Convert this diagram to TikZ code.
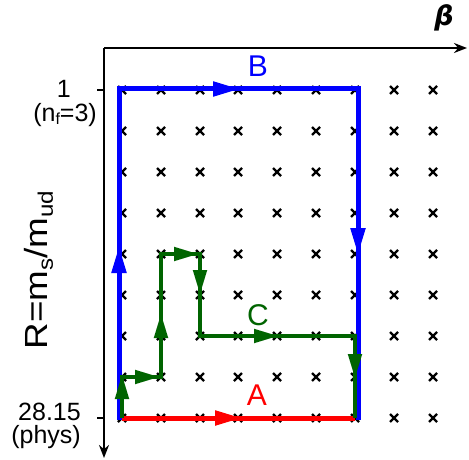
\documentclass[tikz,border=0pt]{standalone}
\usepackage{fontspec}
\setmainfont{Liberation Sans}
\newfontfamily\betafont{DejaVu Sans}
\usetikzlibrary{arrows.meta}
\definecolor{pblue}{RGB}{0,0,255}
\definecolor{pred}{RGB}{255,0,0}
\definecolor{pgreen}{RGB}{0,100,0}
\tikzset{
  axisline/.style={line width=2pt,black},
  crossmark/.style={line width=2.2pt,black},
  pathB/.style={line width=5pt,pblue},
  pathA/.style={line width=5pt,pred},
  pathC/.style={line width=4.6pt,pgreen,line join=miter},
  tipB/.style={pblue,-{Triangle[length=27pt,width=14pt]},line width=5pt},
  tipA/.style={pred,-{Triangle[length=27pt,width=14pt]},line width=5pt},
  tipC/.style={pgreen,-{Triangle[length=25pt,width=13pt]},line width=4.6pt},
  ticklab/.style={font=\fontsize{25}{25}\selectfont,inner sep=0pt},
  pathlab/.style={font=\fontsize{30}{30}\selectfont,inner sep=0pt},
}
\begin{document}
\begin{tikzpicture}[x=1pt,y=-1pt]
\useasboundingbox (0,0) rectangle (469,460);
% grid coordinates
\foreach \i/\x in {0/122,1/161,2/200,3/238,4/277,5/316,6/355,7/394,8/433}{
  \foreach \j/\y in {0/90,1/131,2/172,3/213,4/254,5/295,6/336,7/377,8/418}{
    \coordinate (g-\i-\j) at (\x,\y);
  }
}
% crosses
\foreach \i in {0,...,8}{
  \foreach \j in {0,...,8}{
    \draw[crossmark] ([shift={(-4,-4)}]g-\i-\j) -- ([shift={(4,4)}]g-\i-\j)
                     ([shift={(-4,4)}]g-\i-\j) -- ([shift={(4,-4)}]g-\i-\j);
  }
}
% axes
\coordinate (origin) at (104,48);
\coordinate (xend) at (467,48);
\coordinate (yend) at (104,458);
\draw[axisline,-{Stealth[length=13pt,width=10pt]}] (origin) -- (xend);
\draw[axisline,-{Stealth[length=13pt,width=10pt]}] (origin) -- (yend);
\draw[axisline] (97,90) -- (104,90);
\draw[axisline] (97,418) -- (104,418);
% tick labels
\node[ticklab,anchor=east] (t1) at (71,89) {1};
\node[ticklab,anchor=east] (t1b) at (97,115) {(n\raisebox{-3pt}{\fontsize{16}{16}\selectfont f}=3)};
\node[ticklab,anchor=east] (t2) at (81,412) {28.15};
\node[ticklab,anchor=east] (t2b) at (81,437) {(phys)};
% axis labels
\node[inner sep=0pt,rotate=90,font=\fontsize{32}{32}\selectfont] (ylab) at (39,270)
  {\scalebox{1.15}[1]{R=m\raisebox{-5pt}{\fontsize{21}{21}\selectfont s}/m\raisebox{-5pt}{\fontsize{21}{21}\selectfont ud}}};
\node[inner sep=0pt,font=\betafont\bfseries\itshape\fontsize{27}{27}\selectfont] (beta) at (444,18) {β};
% path B
\coordinate (b0) at (119,420);
\coordinate (b1) at (119,89);
\coordinate (b2) at (358,89);
\coordinate (b3) at (358,420);
\draw[pathB] (b0) -- (b1) -- (b2) -- (b3);
% path A
\draw[pathA] (g-0-8) -- (g-6-8);
% path C
\draw[pathC] (g-0-8) -- (g-0-7) -- (g-1-7) -- (g-1-4) -- (g-2-4) -- (g-2-6) -- (g-6-6) -- (g-6-8);
% arrowheads
\draw[tipB] (119,276) -- (119,246);
\draw[tipB] (211,89) -- (240,89);
\draw[tipB] (358,225) -- (358,255);
\draw[tipA] (212,418) -- (242,418);
\draw[tipC] (122,405) -- (122,374);
\draw[tipC] (133,377) -- (160,377);
\draw[tipC] (161,342) -- (161,313);
\draw[tipC] (172,254) -- (199,254);
\draw[tipC] (200,268) -- (200,295);
\draw[tipC] (250,336) -- (279,336);
\draw[tipC] (355,350) -- (355,379);
% path labels
\node[pathlab,text=pblue] (labB) at (258,66) {B};
\node[pathlab,text=pred] (labA) at (257,395) {A};
\node[pathlab,text=pgreen] (labC) at (258,315) {C};
\end{tikzpicture}
\end{document}
